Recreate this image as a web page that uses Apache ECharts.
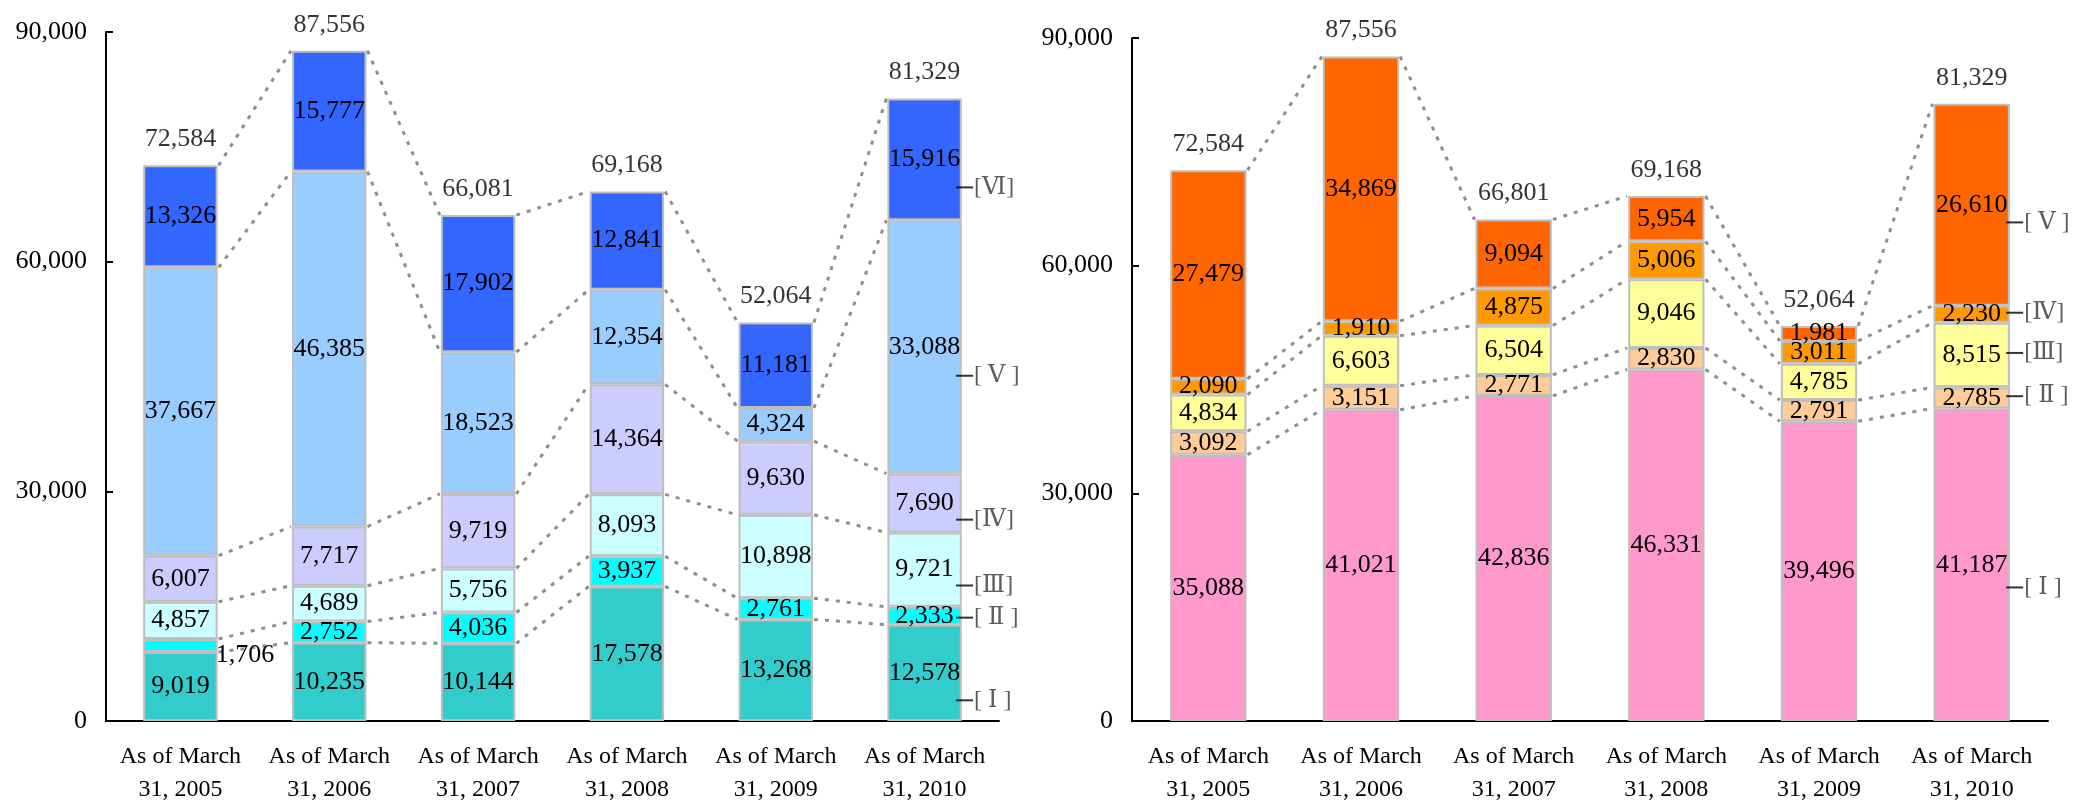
<!DOCTYPE html>
<html>
<head>
<meta charset="utf-8">
<script src="https://cdn.jsdelivr.net/npm/echarts@6/dist/echarts.min.js"></script>
<style>
  html, body { margin: 0; padding: 0; background: #fff; }
  #chart { width: 2087px; height: 806px; }
</style>
</head>
<body>
<div id="chart"></div>
<script>
// Fiscal year-end snapshots shared by both panels
const categories = [
  'As of March\n31, 2005', 'As of March\n31, 2006', 'As of March\n31, 2007',
  'As of March\n31, 2008', 'As of March\n31, 2009', 'As of March\n31, 2010'
];
const yTicks = [0, 30000, 60000, 90000];

// Left panel: six groups, bottom to top
const leftI   = [9019, 10235, 10144, 17578, 13268, 12578];
const leftII  = [1706, 2752, 4036, 3937, 2761, 2333];
const leftIII = [4857, 4689, 5756, 8093, 10898, 9721];
const leftIV  = [6007, 7717, 9719, 14364, 9630, 7690];
const leftV   = [37667, 46385, 18523, 12354, 4324, 33088];
const leftVI  = [13326, 15777, 17902, 12841, 11181, 15916];
const leftTotals = [72584, 87556, 66081, 69168, 52064, 81329];
const leftTagNames  = ['[ Ⅰ ]', '[ Ⅱ ]', '[Ⅲ]', '[Ⅳ]', '[ Ⅴ ]', '[Ⅵ]'];
const leftTagLevels = [2700, 13500, 17700, 26300, 45100, 69700];

// Right panel: five groups, bottom to top
const rightI   = [35088, 41021, 42836, 46331, 39496, 41187];
const rightII  = [3092, 3151, 2771, 2830, 2791, 2785];
const rightIII = [4834, 6603, 6504, 9046, 4785, 8515];
const rightIV  = [2090, 1910, 4875, 5006, 3011, 2230];
const rightV   = [27479, 34869, 9094, 5954, 1981, 26610];
const rightTotals = [72584, 87556, 66801, 69168, 52064, 81329];
const rightTagNames  = ['[ Ⅰ ]', '[ Ⅱ ]', '[Ⅲ]', '[Ⅳ]', '[ Ⅴ ]'];
const rightTagLevels = [17600, 42800, 48500, 53800, 65700];

const leftColors  = ['#33CCCC', '#00FFFF', '#CCFFFF', '#CCCCFF', '#99CCFF', '#3366FF'];
const rightColors = ['#FF99CC', '#FFCC99', '#FFFF99', '#FF9900', '#FF6600'];

const FONT = '"Liberation Serif", "Times New Roman", "DejaVu Serif", "Noto Sans CJK JP", serif';
const NUM_SIZE = 26;
const fmt = v => Number(v).toLocaleString('en-US');

function buildPanel(g, groups, colors, totals, tagNames, tagLevels, tagOffset, labelOverrides) {
  const series = [];
  const stackId = 'stack' + g;

  // stacked segments
  groups.forEach((vals, k) => {
    series.push({
      type: 'bar', xAxisIndex: g, yAxisIndex: g, stack: stackId,
      barWidth: '50%', z: 3,
      itemStyle: { color: colors[k], borderColor: '#BEBEBE', borderWidth: 2 },
      label: {
        show: true, position: 'inside', color: '#000',
        fontFamily: FONT, fontSize: NUM_SIZE, formatter: p => fmt(p.value)
      },
      data: vals.map((v, i) => {
        const ov = labelOverrides && labelOverrides[k + ':' + i];
        return ov ? { value: v, label: ov } : v;
      })
    });
  });

  // cumulative boundaries for the connector lines
  const cum = [];
  groups.forEach((vals, k) => {
    cum.push(vals.map((v, i) => v + (k ? cum[k - 1][i] : 0)));
  });
  const stackTop = cum[cum.length - 1];

  // dotted series lines between neighbouring bars
  series.push({
    type: 'custom', xAxisIndex: g, yAxisIndex: g, silent: true, z: 2, clip: false,
    data: categories.slice(0, -1).map((c, i) => [i]),
    renderItem: (params, api) => {
      const i = api.value(0);
      const half = api.size([1, 0])[0] * 0.25;
      return {
        type: 'group',
        children: cum.map(level => {
          const a = api.coord([i, level[i]]);
          const b = api.coord([i + 1, level[i + 1]]);
          return {
            type: 'line',
            shape: { x1: a[0] + half + 1, y1: a[1], x2: b[0] - half - 1, y2: b[1] },
            style: { stroke: '#8F8F8F', lineWidth: 3, lineDash: [4, 7] }
          };
        })
      };
    }
  });

  // totals above each stack
  series.push({
    type: 'scatter', xAxisIndex: g, yAxisIndex: g, symbolSize: 0, silent: true, z: 5,
    data: stackTop.map((v, i) => [i, v]),
    label: {
      show: true, position: 'top', distance: 13, color: '#000',
      fontFamily: FONT, fontSize: NUM_SIZE, formatter: p => fmt(totals[p.dataIndex])
    }
  });

  // group tags beside the last bar
  series.push({
    type: 'scatter', xAxisIndex: g, yAxisIndex: g, silent: true, z: 5,
    symbol: 'rect', symbolSize: [17, 2], symbolOffset: [tagOffset, 0],
    itemStyle: { color: '#000' },
    data: tagLevels.map(v => [categories.length - 1, v]),
    label: {
      show: true, position: 'right', distance: 1, color: '#333',
      fontFamily: FONT, fontSize: 24, formatter: p => tagNames[p.dataIndex]
    }
  });

  return series;
}

function xAxis(g) {
  return {
    type: 'category', gridIndex: g, data: categories,
    axisLine: { lineStyle: { color: '#000', width: 2 } },
    axisTick: { inside: true, length: 6, lineStyle: { color: '#000', width: 2 } },
    axisLabel: {
      interval: 0, color: '#000', fontFamily: FONT, fontSize: 24, lineHeight: 33, margin: 19
    }
  };
}
function yAxis(g) {
  return {
    type: 'value', gridIndex: g,
    min: yTicks[0], max: yTicks[yTicks.length - 1], interval: yTicks[1] - yTicks[0],
    axisLine: { show: true, lineStyle: { color: '#000', width: 2 } },
    axisTick: { show: true, inside: true, length: 7, lineStyle: { color: '#000', width: 2 } },
    splitLine: { show: false },
    axisLabel: { color: '#000', fontFamily: FONT, fontSize: NUM_SIZE, margin: 19, formatter: v => fmt(v) }
  };
}

const chart = echarts.init(document.getElementById('chart'), null, { renderer: 'canvas' });
chart.setOption({
  animation: false,
  backgroundColor: '#fff',
  grid: [
    { left: 106, right: 1088, top: 32, bottom: 82 },
    { left: 1132, right: 39, top: 38, bottom: 79 }
  ],
  xAxis: [xAxis(0), xAxis(1)],
  yAxis: [yAxis(0), yAxis(1)],
  series: [
    ...buildPanel(0, [leftI, leftII, leftIII, leftIV, leftV, leftVI], leftColors,
      leftTotals, leftTagNames, leftTagLevels, 40,
      { '1:0': { position: 'right', distance: 0, offset: [-2, 10] } }),
    ...buildPanel(1, [rightI, rightII, rightIII, rightIV, rightV], rightColors,
      rightTotals, rightTagNames, rightTagLevels, 43, null)
  ]
});
</script>
</body>
</html>
